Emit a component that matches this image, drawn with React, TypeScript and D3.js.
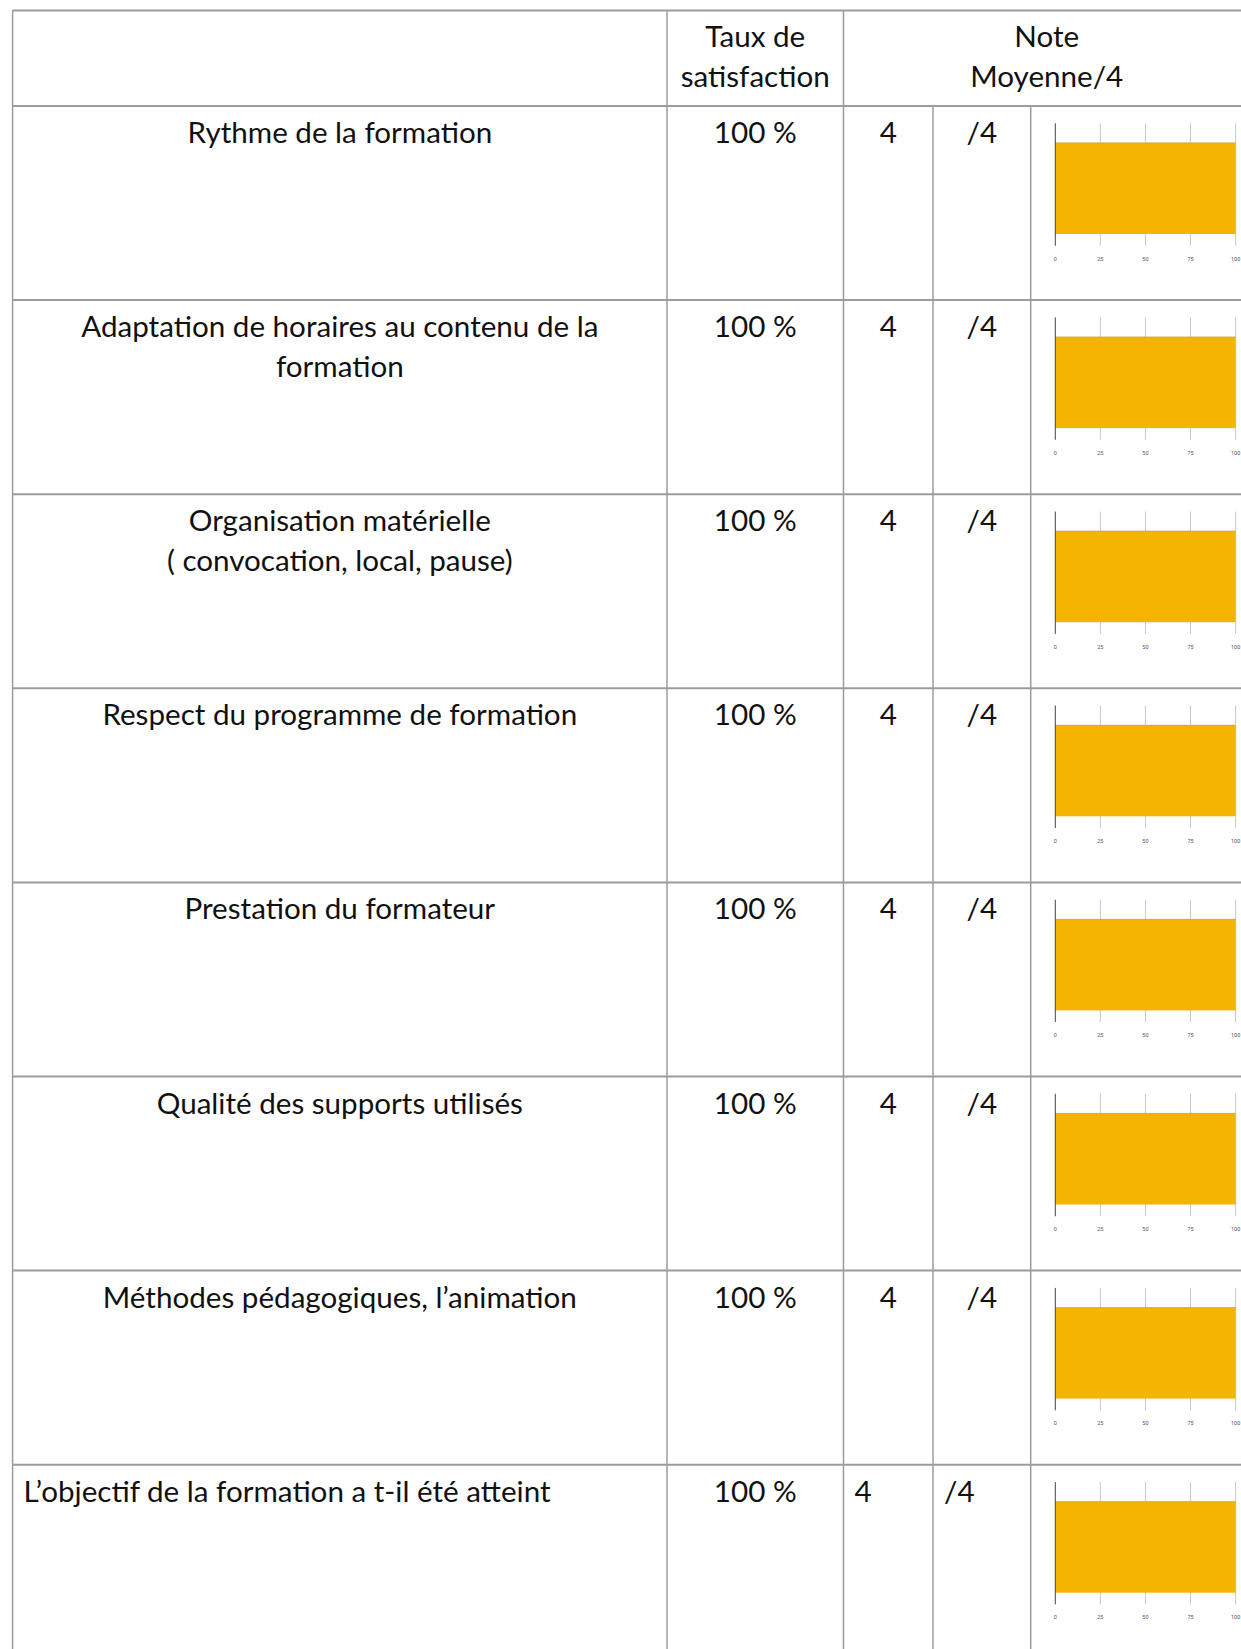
import React from 'react';
import * as d3 from 'd3';

// ── Data ──────────────────────────────────────────────────────────────
const criteres: string[][] = [
  ['Rythme de la formation'],
  ['Adaptation de horaires au contenu de la', 'formation'],
  ['Organisation matérielle', '( convocation, local, pause)'],
  ['Respect du programme de formation'],
  ['Prestation du formateur'],
  ['Qualité des supports utilisés'],
  ['Méthodes pédagogiques, l’animation'],
  ['L’objectif de la formation a t-il été atteint'],
];
const tauxSatisfaction = [100, 100, 100, 100, 100, 100, 100, 100];
const noteMoyenne = [4, 4, 4, 4, 4, 4, 4, 4];
const barValues = [100, 100, 100, 100, 100, 100, 100, 100];
const axisTicks = [0, 25, 50, 75, 100];

// ── Layout ────────────────────────────────────────────────────────────
const W = 1241;
const H = 1649;
const cols = [12.6, 667, 843.5, 933, 1030.7, 1250];
const tableTop = 10.5;
const headerBottom = 106;
const rowH = 194.1;
const FONT = 'Lato, "Open Sans", sans-serif';
const FS = 29.6;
const LH = 40;
const LINE = '#9c9c9c';
const BAR = '#F4B400';

const App = () => {
  const rows = d3.range(criteres.length);
  const y = d3
    .scaleBand<number>()
    .domain(rows)
    .range([headerBottom, headerBottom + rows.length * rowH])
    .padding(0);

  const x = d3.scaleLinear().domain([0, 100]).range([cols[4] + 24.6, cols[4] + 204.9]);

  const cx = (i: number) => (cols[i] + cols[i + 1]) / 2;
  const lastRow = rows.length - 1;

  return (
    <div style={{ position: 'absolute', left: 0, top: 0 }}>
      <svg width={W} height={H} style={{ display: 'block', background: '#fff' }}>
        <rect width={W} height={H} fill="#fff" />

        {/* header */}
        <g fontFamily={FONT} fontSize={FS} fill="#111" textAnchor="middle">
          <text x={cx(1)} y={47}>Taux de</text>
          <text x={cx(1)} y={47 + LH}>satisfaction</text>
          <text x={(cols[2] + cols[5]) / 2} y={47}>Note</text>
          <text x={(cols[2] + cols[5]) / 2} y={47 + LH}>Moyenne/4</text>
        </g>

        {/* rows */}
        {rows.map((i) => {
          const top = y(i)!;
          const base = top + 37;
          const left = i === lastRow;
          return (
            <g key={i} fontFamily={FONT} fontSize={FS} fill="#111">
              {criteres[i].map((line, k) => (
                <text
                  key={k}
                  x={left ? cols[0] + 11 : cx(0)}
                  y={base + k * LH}
                  textAnchor={left ? 'start' : 'middle'}
                >
                  {line}
                </text>
              ))}
              <text x={cx(1)} y={base} textAnchor="middle">
                {tauxSatisfaction[i]} %
              </text>
              <text x={left ? cols[2] + 11 : cx(2)} y={base} textAnchor={left ? 'start' : 'middle'}>
                {noteMoyenne[i]}
              </text>
              <text x={left ? cols[3] + 11 : cx(3)} y={base} textAnchor={left ? 'start' : 'middle'}>
                /4
              </text>

              {/* mini bar chart */}
              <g>
                {axisTicks.slice(1).map((t) => (
                  <line
                    key={t}
                    x1={x(t)}
                    x2={x(t)}
                    y1={top + 17.3}
                    y2={top + 139.7}
                    stroke="#c8c8c8"
                    strokeWidth={1}
                  />
                ))}
                <rect
                  x={x(0)}
                  y={top + 36.7}
                  width={x(barValues[i]) - x(0)}
                  height={91.3}
                  fill={BAR}
                />
                <line
                  x1={x(0)}
                  x2={x(barValues[i])}
                  y1={top + 36.9}
                  y2={top + 36.9}
                  stroke="#b59a4a"
                  strokeOpacity={0.6}
                  strokeWidth={0.8}
                />
                <line
                  x1={x(0)}
                  x2={x(0)}
                  y1={top + 17.3}
                  y2={top + 139.7}
                  stroke="#444"
                  strokeWidth={1}
                />
                {axisTicks.map((t) => (
                  <text
                    key={t}
                    x={x(t)}
                    y={top + 154.5}
                    textAnchor="middle"
                    fontFamily="Roboto, Arial, sans-serif"
                    fontSize={5.5}
                    fill="#555"
                  >
                    {t}
                  </text>
                ))}
              </g>
            </g>
          );
        })}

        {/* grid lines */}
        <g stroke={LINE}>
          {[tableTop, headerBottom, ...rows.slice(1).map((i) => y(i)!)].map((yy, k) => (
            <line key={'h' + k} x1={cols[0]} x2={W} y1={yy} y2={yy} strokeWidth={2} />
          ))}
          <line x1={cols[0]} x2={cols[0]} y1={tableTop} y2={H} strokeWidth={1.5} />
          <line x1={cols[1]} x2={cols[1]} y1={tableTop} y2={H} strokeWidth={1.5} />
          <line x1={cols[2]} x2={cols[2]} y1={tableTop} y2={H} strokeWidth={1.5} />
          <line x1={cols[3]} x2={cols[3]} y1={headerBottom} y2={H} strokeWidth={1.5} />
          <line x1={cols[4]} x2={cols[4]} y1={headerBottom} y2={H} strokeWidth={1.5} />
        </g>
      </svg>
    </div>
  );
};

export default App;
